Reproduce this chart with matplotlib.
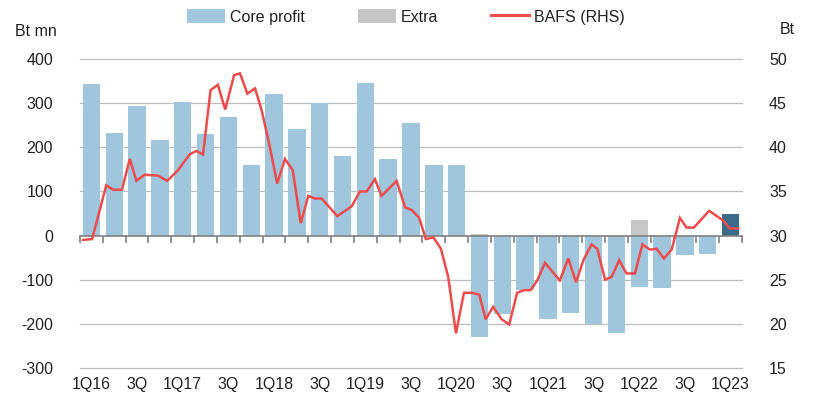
import matplotlib
matplotlib.use("Agg")
import matplotlib.pyplot as plt
import matplotlib.transforms as mtransforms
from matplotlib.patches import Patch
from matplotlib.lines import Line2D

plt.rcParams['font.family'] = ['Liberation Sans', 'DejaVu Sans']
plt.rcParams['axes.unicode_minus'] = False

# ---- data ----
quarters = ['1Q16', '2Q16', '3Q16', '4Q16', '1Q17', '2Q17', '3Q17', '4Q17',
            '1Q18', '2Q18', '3Q18', '4Q18', '1Q19', '2Q19', '3Q19', '4Q19',
            '1Q20', '2Q20', '3Q20', '4Q20', '1Q21', '2Q21', '3Q21', '4Q21',
            '1Q22', '2Q22', '3Q22', '4Q22', '1Q23']
tick_labels = ['1Q16', '3Q', '1Q17', '3Q', '1Q18', '3Q', '1Q19', '3Q', '1Q20',
               '3Q', '1Q21', '3Q', '1Q22', '3Q', '1Q23']
core_profit = [343, 233, 293, 216, 304, 230, 268, 160, 322, 241, 300, 181, 347,
               173, 255, 160, 160, -231, -179, -123, -189, -176, -201, -222,
               -116, -119, -45, -41, 49]
extra = [0, 0, 0, 0, 0, 0, 0, 0, 0, 0, 0, 0, 0, 0, 0, 0, 0, 3, 0, 0, 0, 0, 0, 0,
         36, 0, 0, 0, 0]
# BAFS share price (Bt); time measured in quarters from 1Q16
bafs_t = [-0.37, 0.03, 0.65, 0.95, 1.34, 1.68, 1.97, 2.33, 2.92, 3.32, 3.79,
          4.30, 4.59, 4.89, 5.22, 5.54, 5.86, 6.25, 6.51, 6.83, 7.17, 7.46,
          7.82, 8.14, 8.48, 8.82, 9.17, 9.50, 9.79, 10.09, 10.77, 11.40, 11.76,
          12.06, 12.42, 12.71, 13.37, 13.74, 14.03, 14.36, 14.65, 14.98, 15.31,
          15.63, 15.97, 16.32, 16.66, 16.99, 17.27, 17.60, 17.97, 18.30, 18.65,
          18.95, 19.24, 19.53, 19.87, 20.52, 20.89, 21.23, 21.55, 21.91, 22.16,
          22.50, 22.79, 23.12, 23.44, 23.81, 24.14, 24.47, 24.76, 25.08, 25.42,
          25.78, 26.07, 26.39, 27.06, 27.68, 27.97, 28.33]
bafs_price = [29.5, 29.6, 35.7, 35.2, 35.2, 38.7, 36.2, 36.9, 36.8, 36.2, 37.4,
              39.2, 39.6, 39.2, 46.5, 47.1, 44.3, 48.2, 48.4, 46.1, 46.7, 44.2,
              40.0, 35.9, 38.7, 37.4, 31.4, 34.5, 34.2, 34.2, 32.2, 33.3, 35.0,
              35.0, 36.4, 34.5, 36.2, 33.2, 32.9, 32.0, 29.6, 29.8, 28.5,
              25.3, 18.9, 23.5, 23.5, 23.3, 20.5, 21.9, 20.5, 19.9, 23.5,
              23.8, 23.8, 24.9, 26.9, 24.9, 27.4, 24.7, 27.2, 29.0, 28.5,
              25.0, 25.3, 27.2, 25.7, 25.7, 29.0, 28.4, 28.5, 27.4, 28.4,
              32.0, 30.9, 30.9, 32.8, 31.7, 30.8, 30.8]

left_ticks = [400, 300, 200, 100, 0, -100, -200, -300]
right_ticks = [50, 45, 40, 35, 30, 25, 20, 15]

# ---- style ----
c_core = '#9fc6dc'
c_last = '#3c6a8a'
c_extra = '#c6c6c6'
c_line = '#ee4c4c'
c_grid = '#bdbdbd'
c_text = '#222222'
fs = 11.5

W, H = 813, 405
fig = plt.figure(figsize=(W / 100, H / 100), dpi=100)
ax_l, ax_r, ax_t, ax_b = 80, 742, 59.3, 367.7
ax = fig.add_axes([ax_l / W, 1 - ax_b / H, (ax_r - ax_l) / W, (ax_b - ax_t) / H])

n = len(quarters)
x = list(range(n))
colors = [c_core] * (n - 1) + [c_last]
ax.bar(x, core_profit, width=0.76, color=colors, zorder=2)
ax.bar(x, extra, width=0.76, color=c_extra, zorder=2)

ax.set_xlim(-0.5, n - 0.5)
ax.set_ylim(-300, 400)
ax.set_yticks(left_ticks)
ax.set_yticklabels([str(v) for v in left_ticks])
for v in left_ticks:
    if v != 0:
        ax.axhline(v, color=c_grid, lw=0.9, zorder=0, clip_on=False)
ax.tick_params(axis='y', length=0, pad=19.5, labelsize=fs, labelcolor=c_text)

for s in ['top', 'right', 'left']:
    ax.spines[s].set_visible(False)
ax.spines['bottom'].set_position(('data', 0))
ax.spines['bottom'].set_color('#808080')
ax.spines['bottom'].set_linewidth(1.2)
ax.spines['bottom'].set_zorder(4)
ax.set_xticks([i - 0.5 for i in range(n + 1)])
ax.set_xticklabels([])
ax.tick_params(axis='x', direction='out', length=5, width=1.2, color='#808080')

trans = mtransforms.blended_transform_factory(ax.transData, ax.transAxes)
for k, lab in enumerate(tick_labels):
    ax.text(2 * k, -0.056, lab, transform=trans, ha='center', va='center',
            fontsize=fs, color=c_text)

# right axis
ax2 = ax.twinx()
ax2.set_ylim(15, 50)
ax2.set_yticks(right_ticks)
ax2.set_yticklabels([str(v) for v in right_ticks])
ax2.tick_params(axis='y', length=0, pad=19.5, labelsize=fs, labelcolor=c_text)
for s in ax2.spines.values():
    s.set_visible(False)
ax2.plot(bafs_t, bafs_price, color=c_line, lw=1.8, zorder=5, solid_joinstyle='miter')

fig.text(15 / W, 1 - 31 / H, 'Bt mn', fontsize=fs, color=c_text, ha='left', va='center')
fig.text(780 / W, 1 - 30 / H, 'Bt', fontsize=fs, color=c_text, ha='left', va='center')

handles = [Patch(facecolor=c_core, edgecolor='none'),
           Patch(facecolor=c_extra, edgecolor='none'),
           Line2D([0], [0], color=c_line, lw=2.2)]
fig.legend(handles, ['Core profit', 'Extra', 'BAFS (RHS)'], loc='center',
           bbox_to_anchor=(406 / W, 1 - 17 / H), ncol=3, frameon=False,
           fontsize=fs, handlelength=2.4, handleheight=0.95,
           handletextpad=0.3, columnspacing=3.3, labelcolor=c_text)

fig.savefig('out.png', dpi=100)
